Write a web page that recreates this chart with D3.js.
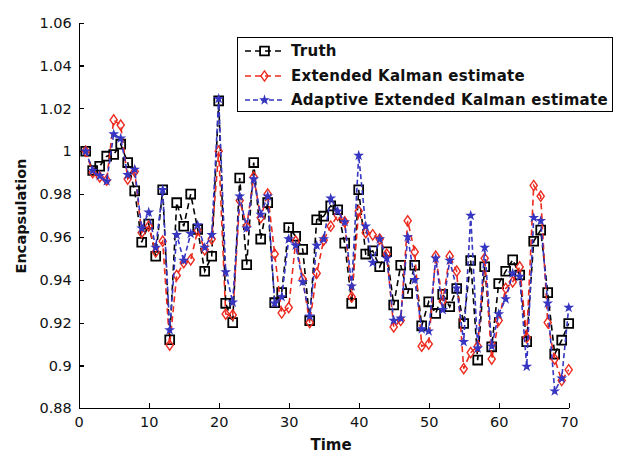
<!DOCTYPE html>
<html lang="en">
<head>
<meta charset="utf-8">
<title>Encapsulation estimates</title>
<style>
body{
  margin: 0;
  background: #fff;
}
.axis text{
  font: 14.5px "DejaVu Sans", sans-serif;
  fill: #111;
}
.axis path, .axis line{
  fill: none;
  stroke: #000;
  stroke-width: 1.2;
  shape-rendering: crispEdges;
}
.lbl{
  font: bold 14px "DejaVu Sans", sans-serif;
  fill: #111;
}
.leg{
  font: bold 15px "DejaVu Sans", sans-serif;
  letter-spacing: 0.25px;
  fill: #111;
}
</style>
</head>
<body>
<div id="chart"></div>
<script src="https://d3js.org/d3.v7.min.js"></script>
<script>
// time steps 1..70
var time = d3.range(1, 71);

var truth = [1.000,0.991,0.993,0.9977,0.9985,1.0033,0.9947,0.9815,0.9575,0.966,
  0.951,0.982,0.912,0.976,0.965,0.980,0.9635,0.944,0.951,1.0235,
  0.929,0.920,0.9875,0.947,0.9947,0.959,0.976,0.9293,0.934,0.9644,
  0.9603,0.9542,0.9209,0.968,0.9697,0.9745,0.9727,0.9571,0.929,0.982,
  0.952,0.9535,0.9461,0.9531,0.9282,0.9468,0.9336,0.9468,0.9185,0.9297,
  0.9243,0.9332,0.9274,0.9359,0.9196,0.949,0.9025,0.9461,0.9087,0.9382,
  0.944,0.9493,0.9422,0.9111,0.958,0.9632,0.934,0.9053,0.9118,0.9196];

var ekf = [1.000,0.990,0.988,0.9865,1.0146,1.0122,0.987,0.9905,0.962,0.965,
  0.953,0.958,0.9095,0.942,0.948,0.9493,0.963,0.954,0.959,1.000,
  0.924,0.9236,0.977,0.965,0.988,0.969,0.980,0.952,0.9245,0.927,
  0.958,0.9403,0.920,0.943,0.9585,0.965,0.970,0.967,0.932,0.972,
  0.962,0.961,0.959,0.952,0.918,0.921,0.9675,0.953,0.909,0.910,
  0.951,0.930,0.951,0.944,0.8985,0.906,0.909,0.950,0.903,0.921,
  0.936,0.939,0.946,0.913,0.984,0.979,0.920,0.903,0.893,0.898];

var aekf = [1.000,0.991,0.9885,0.986,1.008,1.006,0.989,0.9915,0.964,0.9715,
  0.955,0.982,0.9165,0.961,0.949,0.9615,0.9655,0.955,0.961,1.0245,
  0.9436,0.9295,0.979,0.964,0.987,0.9705,0.979,0.929,0.932,0.959,
  0.956,0.939,0.923,0.956,0.959,0.978,0.972,0.967,0.937,0.998,
  0.965,0.948,0.959,0.950,0.921,0.922,0.960,0.940,0.917,0.916,
  0.950,0.926,0.949,0.936,0.911,0.970,0.908,0.955,0.909,0.924,
  0.931,0.943,0.9415,0.8995,0.969,0.9675,0.929,0.888,0.894,0.927];

var xTicks = [0, 10, 20, 30, 40, 50, 60, 70];
var yTicks = [0.88, 0.9, 0.92, 0.94, 0.96, 0.98, 1, 1.02, 1.04, 1.06];
var yTickLabels = ["0.88", "0.9", "0.92", "0.94", "0.96", "0.98", "1", "1.02", "1.04", "1.06"];

var seriesNames = ["Truth", "Extended Kalman estimate", "Adaptive Extended Kalman estimate"];

var svg = d3.select("#chart").append("svg")
  .attr("width", 617)
  .attr("height", 453);

var x = d3.scaleLinear().domain([0, 70]).range([78.7, 568.7]);
var y = d3.scaleLinear().domain([0.88, 1.06]).range([408.3, 22.7]);

// diamond: a square turned 45deg and squeezed sideways
var series = [
  { name: seriesNames[0], values: truth, color: "#000", dash: "6,4",
    sym: d3.symbolSquare, size: 78, fill: "none", tf: "", sw: 1.8 },
  { name: seriesNames[1], values: ekf, color: "#ec2a1e", dash: "6,4",
    sym: d3.symbolSquare, size: 40, fill: "none", tf: " scale(0.8,1.15) rotate(45)", sw: 1.5 },
  { name: seriesNames[2], values: aekf, color: "#3636c2", dash: "5,3",
    sym: d3.symbolStar, size: 16, fill: "#3636c2", tf: "", sw: 1.2 }
];

// axes (MATLAB style: inward ticks, no box)
svg.append("g")
  .attr("class", "axis")
  .attr("transform", "translate(0," + y(0.88) + ")")
  .call(d3.axisBottom(x).tickValues(xTicks).tickSizeInner(-5).tickSizeOuter(0).tickPadding(8));

svg.append("g")
  .attr("class", "axis")
  .attr("transform", "translate(" + x(0) + ",0)")
  .call(d3.axisLeft(y).tickValues(yTicks).tickSizeInner(-5).tickSizeOuter(0).tickPadding(7)
    .tickFormat((d, i) => yTickLabels[i]));

var line = d3.line()
  .x((d, i) => x(time[i]))
  .y((d) => y(d));

series.forEach(function(s) {
  var g = svg.append("g");
  g.append("path")
    .attr("d", line(s.values))
    .attr("fill", "none")
    .attr("stroke", s.color)
    .attr("stroke-width", 1.6)
    .attr("stroke-dasharray", s.dash);
  g.selectAll("path.m").data(s.values)
    .enter().append("path")
    .attr("class", "m")
    .attr("transform", (d, i) => "translate(" + x(time[i]) + "," + y(d) + ")" + s.tf)
    .attr("d", d3.symbol().type(s.sym).size(s.size))
    .attr("fill", s.fill)
    .attr("stroke", s.color)
    .attr("stroke-width", s.sw);
});

// axis labels
svg.append("text")
  .attr("class", "lbl")
  .attr("x", 331)
  .attr("y", 450)
  .attr("text-anchor", "middle")
  .style("font-size", "15px")
  .text("Time");

svg.append("text")
  .attr("class", "lbl")
  .attr("transform", "translate(26,216) rotate(-90)")
  .attr("text-anchor", "middle")
  .style("font-size", "14.5px")
  .text("Encapsulation");

// legend
var legend = svg.append("g");
legend.append("rect")
  .attr("x", 237.5)
  .attr("y", 37.5)
  .attr("width", 375)
  .attr("height", 74)
  .attr("fill", "#fff")
  .attr("stroke", "#000")
  .attr("stroke-width", 1);

var rowY = [51, 76, 100];
series.forEach(function(s, i) {
  legend.append("line")
    .attr("x1", 245).attr("x2", 284)
    .attr("y1", rowY[i]).attr("y2", rowY[i])
    .attr("stroke", s.color)
    .attr("stroke-width", 1.6)
    .attr("stroke-dasharray", s.dash);
  legend.append("path")
    .attr("transform", "translate(264.5," + rowY[i] + ")" + s.tf)
    .attr("d", d3.symbol().type(s.sym).size(s.size))
    .attr("fill", s.fill)
    .attr("stroke", s.color)
    .attr("stroke-width", s.sw);
  legend.append("text")
    .attr("class", "leg")
    .attr("x", 291)
    .attr("y", rowY[i])
    .attr("dy", "0.36em")
    .text(s.name);
});
</script>
</body>
</html>
